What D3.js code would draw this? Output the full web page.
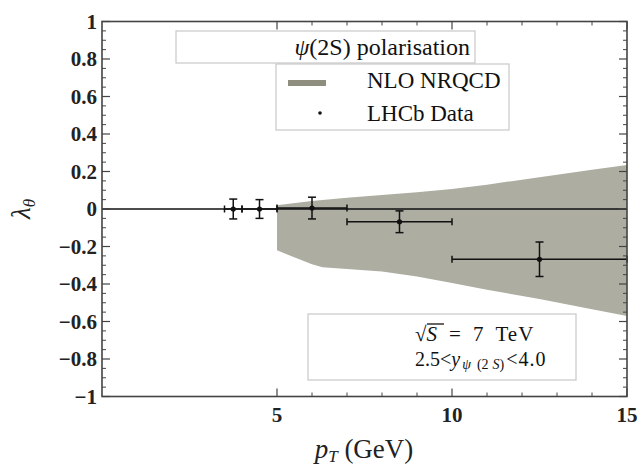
<!DOCTYPE html>
<html>
<head>
<meta charset="utf-8">
<script src="https://cdn.jsdelivr.net/npm/d3@7"></script>
<style>
  body { margin: 0; background: #fff; }
  svg text { font-family: 'Liberation Serif', 'Times New Roman', Times, serif; }
  .tick-label { font-weight: bold; font-size: 21px; fill: #222; }
</style>
</head>
<body>
<div id="chart"></div>
<script>
// LHCb data, psi(2S) lambda_theta vs pT
const ptBins = [[3.5, 4], [4, 5], [5, 7], [7, 10], [10, 15]];
const ptCenters = [3.75, 4.5, 6, 8.5, 12.5];
const lambdaVals = [0.0, 0.0, 0.005, -0.068, -0.268];
const lambdaErr = [0.053, 0.05, 0.058, 0.058, 0.092];

// NLO NRQCD band
const bandPt = [5, 5.4, 6, 6.3, 7, 8, 9, 10, 11, 12.5, 14, 15];
const bandUpper = [0.02, 0.03, 0.043, 0.048, 0.06, 0.075, 0.09, 0.107, 0.13, 0.17, 0.21, 0.235];
const bandLower = [-0.22, -0.25, -0.295, -0.31, -0.32, -0.333, -0.36, -0.395, -0.43, -0.48, -0.535, -0.57];

const xMajor = [5, 10, 15];
const xMinor = [6, 7, 8, 9, 11, 12, 13, 14];
const yMajor = [-1, -0.8, -0.6, -0.4, -0.2, 0, 0.2, 0.4, 0.6, 0.8, 1];

const width = 641;
const height = 466;

const x = d3.scaleLinear().domain([0, 15]).range([102, 627]);
const y = d3.scaleLinear().domain([-1, 1]).range([396.5, 21.5]);

const svg = d3.select('#chart')
  .append('svg')
  .attr('width', width)
  .attr('height', height);

// band
const band = bandPt.map((p, i) => ({ p, lo: bandLower[i], hi: bandUpper[i] }));
svg.append('path')
  .datum(band)
  .attr('fill', '#adada2')
  .attr('d', d3.area().x((d) => x(d.p)).y0((d) => y(d.lo)).y1((d) => y(d.hi)));

// zero line
svg.append('line')
  .attr('x1', x(0)).attr('x2', x(15))
  .attr('y1', y(0)).attr('y2', y(0))
  .attr('stroke', '#111').attr('stroke-width', 1.6);

// data points with error bars
const pts = ptCenters.map((p, i) => ({
  p, bin: ptBins[i], v: lambdaVals[i], e: lambdaErr[i]
}));
const g = svg.append('g').attr('stroke', '#111').attr('stroke-width', 1.5);
pts.forEach((d) => {
  g.append('line')
    .attr('x1', x(d.bin[0])).attr('x2', x(d.bin[1]))
    .attr('y1', y(d.v)).attr('y2', y(d.v));
  g.append('line')
    .attr('x1', x(d.p)).attr('x2', x(d.p))
    .attr('y1', y(d.v - d.e)).attr('y2', y(d.v + d.e));
  // caps
  [d.bin[0], d.bin[1]].forEach((b) => {
    g.append('line')
      .attr('x1', x(b)).attr('x2', x(b))
      .attr('y1', y(d.v) - 3.5).attr('y2', y(d.v) + 3.5);
  });
  [d.v - d.e, d.v + d.e].forEach((v) => {
    g.append('line')
      .attr('x1', x(d.p) - 4).attr('x2', x(d.p) + 4)
      .attr('y1', y(v)).attr('y2', y(v));
  });
  g.append('circle')
    .attr('cx', x(d.p)).attr('cy', y(d.v)).attr('r', 2.6)
    .attr('fill', '#111').attr('stroke', 'none');
});

// frame
const frame = svg.append('g').attr('stroke', '#444').attr('fill', 'none');
frame.append('rect')
  .attr('x', x(0)).attr('y', y(1))
  .attr('width', x(15) - x(0)).attr('height', y(-1) - y(1))
  .attr('stroke-width', 1.6);

// y ticks (both sides, inward)
const yMinor = d3.range(-1, 1.0001, 0.05).filter((v) => !yMajor.some((m) => Math.abs(m - v) < 1e-6));
yMajor.forEach((v) => {
  frame.append('line').attr('x1', x(0)).attr('x2', x(0) + 8).attr('y1', y(v)).attr('y2', y(v)).attr('stroke-width', 1.2);
  frame.append('line').attr('x1', x(15)).attr('x2', x(15) - 8).attr('y1', y(v)).attr('y2', y(v)).attr('stroke-width', 1.2);
});
yMinor.forEach((v) => {
  frame.append('line').attr('x1', x(0)).attr('x2', x(0) + 4).attr('y1', y(v)).attr('y2', y(v)).attr('stroke-width', 1);
  frame.append('line').attr('x1', x(15)).attr('x2', x(15) - 4).attr('y1', y(v)).attr('y2', y(v)).attr('stroke-width', 1);
});
// x ticks (bottom and top, inward)
xMajor.forEach((v) => {
  frame.append('line').attr('x1', x(v)).attr('x2', x(v)).attr('y1', y(-1)).attr('y2', y(-1) - 8).attr('stroke-width', 1.2);
  frame.append('line').attr('x1', x(v)).attr('x2', x(v)).attr('y1', y(1)).attr('y2', y(1) + 8).attr('stroke-width', 1.2);
});
xMinor.forEach((v) => {
  frame.append('line').attr('x1', x(v)).attr('x2', x(v)).attr('y1', y(-1)).attr('y2', y(-1) - 4).attr('stroke-width', 1);
  frame.append('line').attr('x1', x(v)).attr('x2', x(v)).attr('y1', y(1)).attr('y2', y(1) + 4).attr('stroke-width', 1);
});

// tick labels
svg.append('g').selectAll('text').data(yMajor).join('text')
  .attr('class', 'tick-label')
  .attr('x', 97).attr('y', (d) => y(d) + 7)
  .attr('text-anchor', 'end')
  .text((d) => (d < 0 ? '\u2212' : '') + String(Math.abs(d)));
svg.append('g').selectAll('text').data(xMajor).join('text')
  .attr('class', 'tick-label')
  .attr('x', (d) => x(d)).attr('y', 422)
  .attr('text-anchor', 'middle')
  .text((d) => d);

// axis labels
const xl = svg.append('text').attr('x', 364).attr('y', 458).attr('text-anchor', 'middle').attr('font-size', 27).attr('fill', '#222');
xl.append('tspan').attr('font-style', 'italic').text('p');
xl.append('tspan').attr('font-style', 'italic').attr('font-size', 17).attr('dy', 4).text('T');
xl.append('tspan').attr('dy', -4).text(' (GeV)');

const yl = svg.append('text').attr('transform', 'translate(30,209) rotate(-90)').attr('text-anchor', 'middle').attr('font-size', 27).attr('fill', '#222');
yl.append('tspan').attr('font-style', 'italic').text('\u03bb');
yl.append('tspan').attr('font-style', 'italic').attr('font-size', 17).attr('dy', 5).text('\u03b8');

// legend: title box
svg.append('rect').attr('x', 176).attr('y', 31).attr('width', 299).attr('height', 32)
  .attr('fill', '#fff').attr('stroke', '#c8c8c8').attr('stroke-width', 1.2);
const title = svg.append('text').attr('x', 470).attr('y', 55).attr('text-anchor', 'end').attr('font-size', 24).attr('fill', '#111');
title.append('tspan').attr('font-style', 'italic').text('\u03c8');
title.append('tspan').text('(2S) polarisation');

// legend: entries box
svg.append('rect').attr('x', 276).attr('y', 64).attr('width', 233).attr('height', 66)
  .attr('fill', '#fff').attr('stroke', '#c8c8c8').attr('stroke-width', 1.2);
svg.append('line').attr('x1', 288).attr('x2', 326).attr('y1', 83).attr('y2', 83)
  .attr('stroke', '#8e8e7f').attr('stroke-width', 6);
svg.append('circle').attr('cx', 320).attr('cy', 113).attr('r', 1.8).attr('fill', '#111');
svg.append('text').attr('x', 367).attr('y', 88).attr('font-size', 23).attr('fill', '#111').text('NLO NRQCD');
svg.append('text').attr('x', 367).attr('y', 121).attr('font-size', 23).attr('fill', '#111').text('LHCb Data');

// energy / rapidity box
svg.append('rect').attr('x', 308).attr('y', 314).attr('width', 268).attr('height', 66)
  .attr('fill', '#fff').attr('stroke', '#c8c8c8').attr('stroke-width', 1.2);
const e1 = svg.append('text').attr('x', 415).attr('y', 341).attr('font-size', 21).attr('fill', '#111');
e1.append('tspan').text('\u221a');
e1.append('tspan').attr('font-style', 'italic').text('S');
e1.append('tspan').attr('dx', 12).attr('word-spacing', 5).attr('letter-spacing', 1).text('= 7 TeV');
// radical overline
svg.append('line').attr('x1', 427).attr('x2', 444).attr('y1', 324).attr('y2', 324).attr('stroke', '#111').attr('stroke-width', 1.3);
const e2 = svg.append('text').attr('x', 415).attr('y', 366).attr('font-size', 20).attr('fill', '#111');
e2.append('tspan').text('2.5<');
e2.append('tspan').attr('font-style', 'italic').text('y');
e2.append('tspan').attr('font-size', 14).attr('dy', 3).attr('dx', 2).attr('font-style', 'italic').text('\u03c8');
e2.append('tspan').attr('font-size', 14).attr('dx', 6).text('(2');
e2.append('tspan').attr('font-size', 14).attr('dx', 4).attr('font-style', 'italic').text('S');
e2.append('tspan').attr('font-size', 14).text(')');
e2.append('tspan').attr('dy', -3).attr('dx', 2).attr('letter-spacing', 1).text('<4.0');
</script>
</body>
</html>
